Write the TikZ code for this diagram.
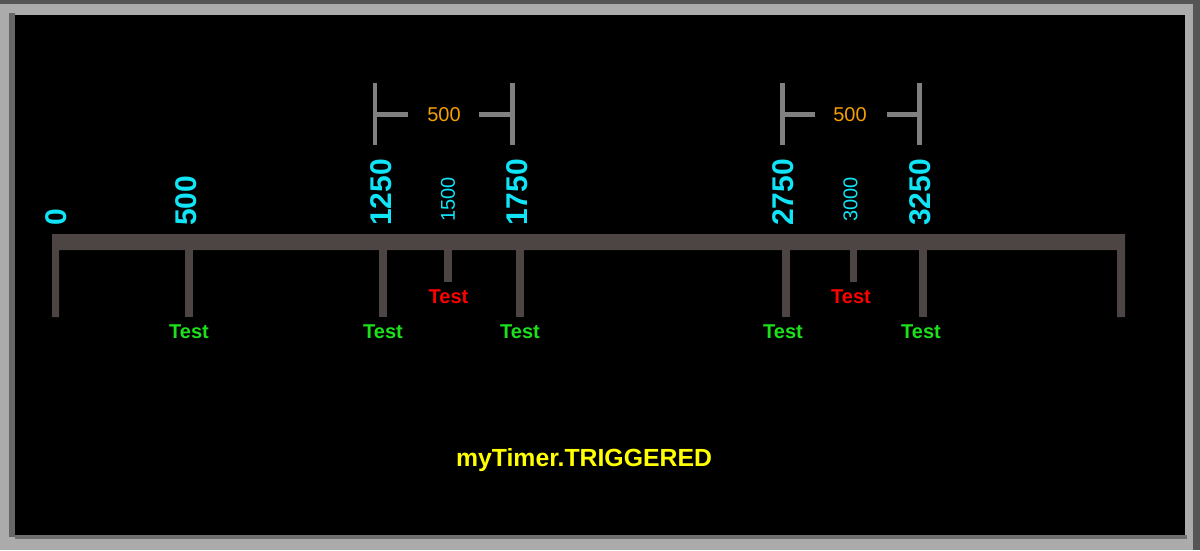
\documentclass[tikz,border=0pt]{standalone}
\usepackage{fontspec}
\setmainfont{Liberation Sans}
\definecolor{framelight}{HTML}{ABABAB}
\definecolor{framedark}{HTML}{555555}
\definecolor{bar}{HTML}{4D4444}
\definecolor{tcyan}{HTML}{10E4F6}
\definecolor{tgreen}{HTML}{1CE01C}
\definecolor{tred}{HTML}{FF0000}
\definecolor{torange}{HTML}{F5A000}
\definecolor{bracket}{HTML}{808080}
\definecolor{tyellow}{HTML}{FFFF00}
\tikzset{
  bigval/.style={text=tcyan,font=\fontsize{30}{36}\selectfont\bfseries,rotate=90,anchor=west,inner sep=0pt},
  smallval/.style={text=tcyan,font=\fontsize{20}{24}\selectfont,rotate=90,anchor=west,inner sep=0pt},
  testg/.style={text=tgreen,font=\fontsize{20}{24}\selectfont\bfseries,anchor=base,inner sep=0pt},
  testr/.style={text=tred,font=\fontsize{20}{24}\selectfont\bfseries,anchor=base,inner sep=0pt},
  dimtext/.style={text=torange,font=\fontsize{20}{24}\selectfont,inner sep=0pt},
  dimline/.style={draw=bracket,line width=4.5pt},
}
\begin{document}
\begin{tikzpicture}[x=1pt,y=-1pt]
\useasboundingbox (0,0) rectangle (1200,550);
% frame
\fill[framelight] (0,0) rectangle (1200,550);
\fill[framedark] (0,0) rectangle (1200,4);
\fill[framedark] (1193,0) rectangle (1200,550);
\fill[black] (15,15) rectangle (1185,535);
\fill[framedark!90] (9,13) rectangle (15,537);
\fill[framedark!70!framelight] (15,535) rectangle (1187,539);
% timeline bar
\fill[bar] (52,234) -- (1125,234) -- (1125,317) -- (1117,317) -- (1117,250)
  -- (59,250) -- (59,317) -- (52,317) -- cycle;
% ticks
\foreach \x in {189,383,520,786,923}{
  \fill[bar] (\x-3.6,249) rectangle (\x+3.6,317);
}
\foreach \x in {448,853.5}{
  \fill[bar] (\x-3.6,249) rectangle (\x+3.6,282);
}
% values
\node[bigval] (v0) at (56,226) {0};
\node[bigval] (v500) at (186,226) {500};
\node[bigval] (v1250) at (381,226) {1250};
\node[smallval] (v1500) at (448,222) {1500};
\node[bigval] (v1750) at (517,226) {1750};
\node[bigval] (v2750) at (783,226) {2750};
\node[smallval] (v3000) at (850.5,222) {3000};
\node[bigval] (v3250) at (920,226) {3250};
% Test labels
\node[testg] (t500) at (189,338) {Test};
\node[testg] (t1250) at (383,338) {Test};
\node[testg] (t1750) at (520,338) {Test};
\node[testg] (t2750) at (783,338) {Test};
\node[testg] (t3250) at (921,338) {Test};
\node[testr] (t1500) at (448.5,303) {Test};
\node[testr] (t3000) at (851,303) {Test};
% dimension brackets
\node[dimtext] (d1) at (444,115) {500};
\node[dimtext] (d2) at (850,115) {500};
\draw[dimline] (375,83) -- (375,145);
\draw[dimline] (375,114.5) -- (408,114.5);
\draw[dimline] (512.5,83) -- (512.5,145);
\draw[dimline] (479,114.5) -- (512.5,114.5);
\draw[dimline] (782.5,83) -- (782.5,145);
\draw[dimline] (782.5,114.5) -- (815,114.5);
\draw[dimline] (919.5,83) -- (919.5,145);
\draw[dimline] (887,114.5) -- (919.5,114.5);
% caption
\node[text=tyellow,font=\fontsize{24.8}{30}\selectfont\bfseries,anchor=base,inner sep=0pt] (cap) at (584,466) {myTimer.TRIGGERED};
\end{tikzpicture}
\end{document}
